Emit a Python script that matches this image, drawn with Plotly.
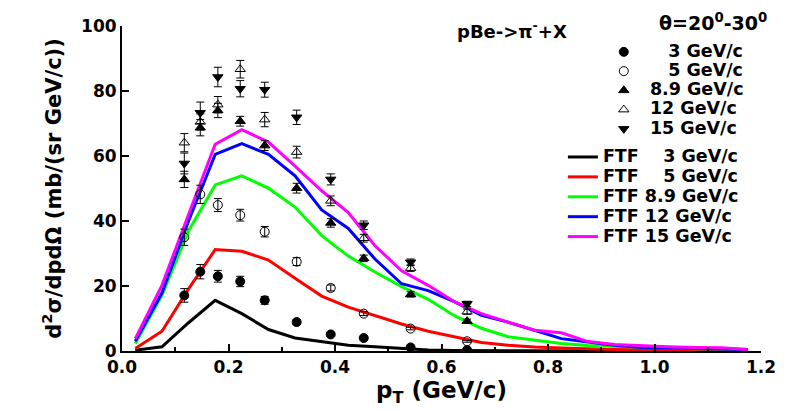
import plotly.graph_objects as go

# ---------------- data ----------------
pt_data = [0.117, 0.147, 0.180, 0.222, 0.268, 0.328, 0.392, 0.454, 0.542, 0.648]

d3 = [17.1, 24.4, 23.0, 21.4, 15.6, 8.9, 5.1, 4.0, 1.1, 0.3]
e3 = [2.1, 2.2, 1.8, 1.6, 1.2, 0.8, 0.5, 0.4, 0.2, 0.1]
d5 = [35.0, 48.2, 44.9, 41.8, 36.7, 27.5, 19.4, 11.5, 6.9, 3.0]
e5 = [2.5, 2.8, 2.0, 1.8, 1.6, 1.2, 0.9, 0.6, 0.4, 0.3]
d89 = [52.8, 68.7, 74.0, 70.7, 63.2, 50.1, 39.4, 28.5, 17.4, 9.2]
e89 = [2.5, 2.5, 2.2, 1.5, 1.5, 1.5, 1.3, 1.0, 0.8, 0.6]
d12 = [64.1, 70.5, 75.8, 86.7, 71.2, 61.2, 46.2, 34.7, 25.5, 12.1]
e12 = [2.8, 2.5, 2.5, 2.7, 2.2, 1.8, 1.5, 1.2, 1.0, 0.8]
d15 = [57.7, 73.3, 84.3, 80.7, 80.4, 71.9, 52.8, 38.7, 27.3, 14.5]
e15 = [3.2, 3.3, 3.0, 2.5, 2.3, 2.2, 1.7, 1.3, 1.0, 0.8]

pt_ftf = [0.025, 0.075, 0.125, 0.175, 0.225, 0.275, 0.325, 0.375, 0.425, 0.475,
          0.525, 0.575, 0.625, 0.675, 0.725, 0.775, 0.825, 0.875, 0.925, 0.975,
          1.025, 1.075, 1.125, 1.175]
ftf3 = [0.25, 1.3, 8.7, 15.6, 11.5, 6.6, 4.0, 2.8, 1.8, 1.3, 0.8, 0.3, 0.15, 0.1,
        0.05, 0.03, 0.02, 0.01, 0.01, 0.0, 0.0, 0.0, 0.0, 0.0]
ftf5 = [0.8, 6.1, 19.1, 31.2, 30.7, 28.0, 22.4, 16.9, 13.5, 11.0, 8.3, 6.1, 4.4, 2.6,
        1.8, 1.2, 0.9, 0.6, 0.5, 0.4, 0.3, 0.2, 0.2, 0.1]
ftf89 = [2.3, 17.1, 37.0, 51.1, 53.9, 50.1, 44.3, 35.5, 29.2, 24.3, 19.8, 15.9, 10.8,
         7.0, 4.4, 3.4, 2.3, 1.7, 1.4, 1.1, 0.9, 0.7, 0.6, 0.5]
ftf12 = [3.0, 17.9, 40.0, 60.5, 63.8, 60.5, 53.9, 43.4, 37.7, 28.3, 20.7, 18.6, 15.1,
         11.0, 8.9, 6.4, 3.8, 2.8, 1.8, 1.1, 0.9, 0.8, 0.6, 0.5]
ftf15 = [3.8, 20.2, 42.0, 63.6, 68.1, 64.3, 56.9, 49.3, 42.6, 32.4, 24.7, 20.2, 15.1,
         11.5, 8.9, 6.4, 5.6, 2.9, 2.0, 1.6, 1.3, 1.1, 1.0, 0.5]

data_labels = ["\u00a0\u00a0\u00a0\u00a03 GeV/c", "\u00a0\u00a0\u00a0\u00a05 GeV/c",
               "\u00a08.9 GeV/c", "\u00a012 GeV/c", "\u00a015 GeV/c"]
ftf_labels = ["FTF \u00a0\u00a0\u00a03 GeV/c", "FTF \u00a0\u00a0\u00a05 GeV/c",
              "FTF 8.9 GeV/c", "FTF 12 GeV/c", "FTF 15 GeV/c"]

FONT = "DejaVu Sans"


def big(label):
    # larger glyphs inside a compact legend row
    return '<span style="font-size:17.5px">' + label + '</span>'


fig = go.Figure()

# FTF lines (drawn first, under markers)
ftf_sets = [ftf3, ftf5, ftf89, ftf12, ftf15]
ftf_colors = ["#000000", "#FF0000", "#00FF00", "#0000FF", "#FF00FF"]
for name, ys, col in zip(ftf_labels, ftf_sets, ftf_colors):
    fig.add_trace(go.Scatter(x=pt_ftf, y=ys, mode="lines", name=big(name),
                             line=dict(color=col, width=3), legend="legend2"))

# data points
data_sets = [(d3, e3, "circle"), (d5, e5, "circle-open"), (d89, e89, "triangle-up"),
             (d12, e12, "triangle-up-open"), (d15, e15, "triangle-down")]
for name, (ys, es, sym) in zip(data_labels, data_sets):
    fig.add_trace(go.Scatter(
        x=pt_data, y=ys, mode="markers", name=big(name),
        marker=dict(symbol=sym, size=9, color="black",
                    line=dict(color="black", width=1)),
        error_y=dict(type="data", array=es, visible=True, color="black",
                     thickness=1, width=4),
        legend="legend"))

axis_font = dict(family=FONT, size=17, color="black", weight="bold")

fig.update_layout(
    width=788, height=411,
    margin=dict(l=122, r=21, t=26, b=58.5),
    paper_bgcolor="white", plot_bgcolor="white",
    font=dict(family=FONT, color="black"),
    xaxis=dict(range=[0, 1.2], dtick=0.2, tick0=0, tickformat=".1f",
               ticks="inside", ticklen=7, tickwidth=2, tickcolor="black",
               minor=dict(ticks="inside", ticklen=4, dtick=0.1, tickwidth=1.5,
                          tickcolor="black"),
               showline=True, linewidth=2, linecolor="black",
               showgrid=False, zeroline=False, tickfont=axis_font,
               title=dict(text="p<sub>T</sub> (GeV/c)", standoff=5,
                          font=dict(family=FONT, size=23, color="black", weight="bold"))),
    yaxis=dict(range=[0, 100], dtick=20, tick0=0,
               ticks="inside", ticklen=7, tickwidth=2, tickcolor="black",
               showline=True, linewidth=2, linecolor="black",
               showgrid=False, zeroline=False, tickfont=axis_font,
               title=dict(text="d<sup>2</sup>σ/dpdΩ (mb/(sr GeV/c))", standoff=14,
                          font=dict(family=FONT, size=21, color="black", weight="bold"))),
    legend=dict(x=0.754, y=0.9654, xanchor="left", yanchor="top",
                bgcolor="rgba(0,0,0,0)", tracegroupgap=0,
                font=dict(family=FONT, size=12.5, color="black", weight="bold")),
    legend2=dict(x=0.69, y=0.643, xanchor="left", yanchor="top",
                 bgcolor="rgba(0,0,0,0)", tracegroupgap=0,
                 font=dict(family=FONT, size=13, color="black", weight="bold")),
    annotations=[
        dict(text="pBe->π<sup>-</sup>+X", xref="paper", yref="paper",
             x=0.61, y=0.988, xanchor="center", yanchor="middle", showarrow=False,
             font=dict(family=FONT, size=18, color="black", weight="bold")),
        dict(text="θ=20<sup>0</sup>-30<sup>0</sup>", xref="paper", yref="paper",
             x=0.925, y=1.012, xanchor="center", yanchor="middle", showarrow=False,
             font=dict(family=FONT, size=19, color="black", weight="bold")),
    ],
)

fig.write_html("out.html", config={"displayModeBar": False},
               post_script="document.body.style.margin='0';")
